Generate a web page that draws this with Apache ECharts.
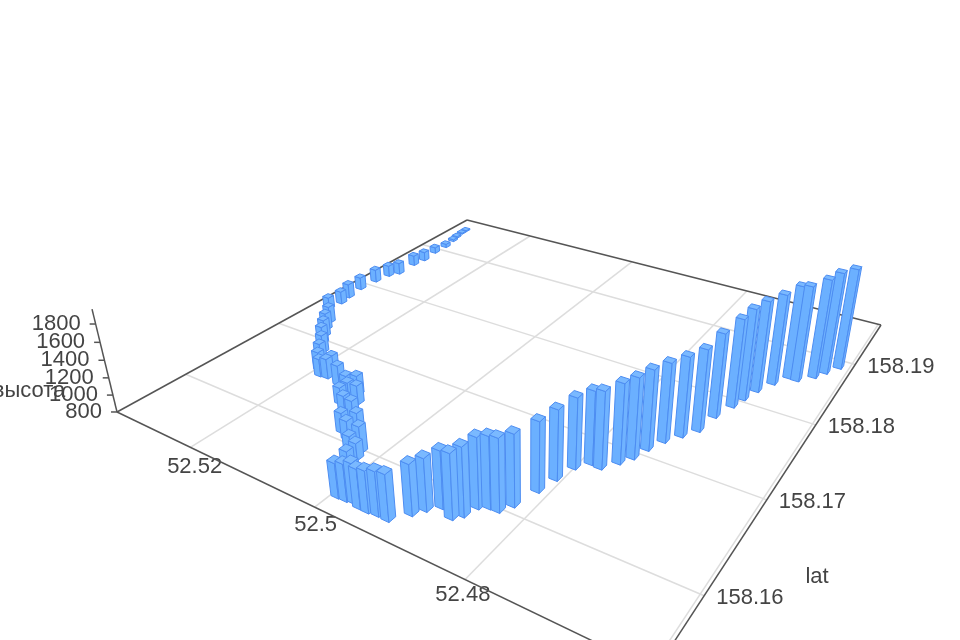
<!doctype html><html><head><meta charset="utf-8"><style>html,body{margin:0;background:#fff}#c{width:960px;height:640px;filter:blur(.7px)}</style><script src="https://cdn.jsdelivr.net/npm/echarts@6/dist/echarts.min.js"></script></head><body><div id="c"></div>
<script>
const lng=[52.53116,52.53110,52.53080,52.53044,52.52997,52.53009,52.52972,52.53003,52.52996,52.53082,52.53123,52.53144,52.53104,52.53066,52.53099,52.52793,52.52686,52.52564,52.52448,52.52273,52.52125,52.51978,52.51860,52.51744,52.51792,52.51502,52.51247,52.51133,52.51175,52.51121,52.50994,52.50980,52.50808,52.50724,52.50585,52.50576,52.50273,52.50332,52.50222,52.50182,52.49931,52.49815,52.49713,52.49608,52.49490,52.49364,52.49221,52.49070,52.48985,52.48865,52.48673,52.48595,52.48541,52.48436,52.48323,52.48237,52.48146,52.48088,52.48019,52.47898,52.47769,52.47637,52.47545,52.47479,52.47384,52.47256,52.47132,52.47083,52.46985,52.46930,52.46858,52.46743,52.46617,52.46510,52.46345,52.46255,52.46137];
const lat=[158.19547,158.19472,158.19359,158.19266,158.19104,158.18934,158.18734,158.18594,158.18364,158.18272,158.18111,158.17913,158.17726,158.17600,158.17460,158.17274,158.17167,158.17069,158.16973,158.16865,158.16750,158.16642,158.16581,158.16590,158.16678,158.16562,158.16491,158.16534,158.16372,158.16425,158.16442,158.16289,158.16264,158.16102,158.16170,158.16059,158.15993,158.15929,158.15918,158.15802,158.15545,158.15549,158.15561,158.15540,158.15539,158.15549,158.15546,158.15668,158.15750,158.15827,158.15776,158.15835,158.15948,158.15988,158.15992,158.16087,158.16295,158.16465,158.16637,158.16740,158.16732,158.16848,158.16950,158.17092,158.17239,158.17365,158.17493,158.17720,158.17918,158.18055,158.18218,158.18387,158.18538,158.18533,158.18652,158.18763,158.18898];
const height=[815,815,822,828,849,880,920,934,949,944,965,960,980,960,952,1008,1009,1011,1012,1016,1020,1025,1013,1037,1008,1039,1034,1034,999,1035,1022,1018,1027,1034,1023,1020,1101,1025,990,1009,1181,1208,1238,1231,1253,1280,1301,1348,1365,1416,1494,1534,1554,1564,1578,1569,1557,1563,1576,1604,1644,1676,1688,1687,1681,1693,1717,1751,1805,1844,1848,1846,1881,1907,1949,1981,1974];
const lngTicks=[52.52,52.5,52.48,52.46];
const latTicks=[158.16,158.17,158.18,158.19];
const heightTicks=[800,1000,1200,1400,1600,1800];
const xR=[52.4596,52.5337],yR=[158.1537,158.1978],zR=[800,1960];
const a=-486.9,b=815,c=655,d=-79.2,e=-128.7,f=671,g=.4365,h=.6685,k=-.0825,i=-43.5,j=-173.3;
const S=v=>(v-xR[0])/(xR[1]-xR[0]),T=v=>(v-yR[0])/(yR[1]-yR[0]),W=v=>(v-zR[0])/(zR[1]-zR[0]);
function pr(s,t,w){const D=g*s+h*t+k*w+1;return [(a*s+b*t+i*w+c)/D,(d*s+e*t+j*w+f)/D];}
const FONT='22px "Liberation Sans"',TXT='#444',AX='#555',GR='#ddd',HW=0.0075;
const line=(p,q,col,lw)=>({type:'line',shape:{x1:p[0],y1:p[1],x2:q[0],y2:q[1]},style:{stroke:col,lineWidth:lw}});
const text=(s,x,y,al)=>({type:'text',style:{text:s,x,y,font:FONT,fill:TXT,textAlign:al||'center',textVerticalAlign:'middle'}});
const frame=[];
lngTicks.forEach(v=>frame.push(['x',v]));latTicks.forEach(v=>frame.push(['y',v]));heightTicks.forEach(v=>frame.push(['z',v]));frame.push(['box',0]);
const order=lng.map((_,n)=>n).sort((m,n)=>{const D=q=>g*S(lng[q])+h*T(lat[q]);return D(n)-D(m);});
const bars=order.map(n=>[lng[n],lat[n],height[n]]);
function drawFrame(p,api){const kind=api.value(0),v=api.value(1);let kids=[];
 if(kind==='x'){const s=S(v);const o=pr(s,0,0);kids=[line(o,pr(s,1,0),GR,1.5),text(String(v),o[0]-5.5+12*s,o[1]+13+8*s)];}
 else if(kind==='y'){const t=T(v);const o=pr(0,t,0);kids=[line(o,pr(1,t,0),GR,1.5),text(String(v),o[0]+12,o[1]+2,'left')];}
 else if(kind==='z'){const o=pr(1,0,W(v));kids=[line(o,[o[0]-6,o[1]],AX,1.5),text(String(v),o[0]-15,o[1],'right')];}
 else{const F=pr(0,0,0),L=pr(1,0,0),B=pr(1,1,0),R=pr(0,1,0);kids=[line(L,B,AX,1.5),line(B,R,AX,1.5),line(L,F,AX,1.5),line(F,R,AX,1.5),line(L,pr(1,0,1),AX,1.5),text('высота',29,391),text('lat',817,577)];}
 return {type:'group',children:kids};}
function drawBar(p,api){const s=S(api.value(0)),t=T(api.value(1)),w=W(api.value(2));
 const c00=z=>pr(s-HW,t-HW,z),c10=z=>pr(s+HW,t-HW,z),c01=z=>pr(s-HW,t+HW,z),c11=z=>pr(s+HW,t+HW,z);
 const face=(pts,col)=>({type:'polygon',shape:{points:pts},style:{fill:col,stroke:'#4d8df2',lineWidth:1,lineJoin:'round'}});
 return {type:'group',children:[face([c10(0),c00(0),c00(w),c10(w)],'#6bb0ff'),face([c00(0),c01(0),c01(w),c00(w)],'#70b3ff'),face([c00(w),c10(w),c11(w),c01(w)],'#7ab9ff')]};}
const chart=echarts.init(document.getElementById('c'),null,{renderer:'canvas'});
chart.setOption({animation:false,backgroundColor:'#fff',series:[
 {type:'custom',coordinateSystem:'none',silent:true,data:frame,dimensions:[{name:'k',type:'ordinal'},'v'],renderItem:drawFrame},
 {type:'custom',coordinateSystem:'none',silent:true,data:bars,dimensions:['lng','lat','height'],renderItem:drawBar}]});
</script></body></html>
